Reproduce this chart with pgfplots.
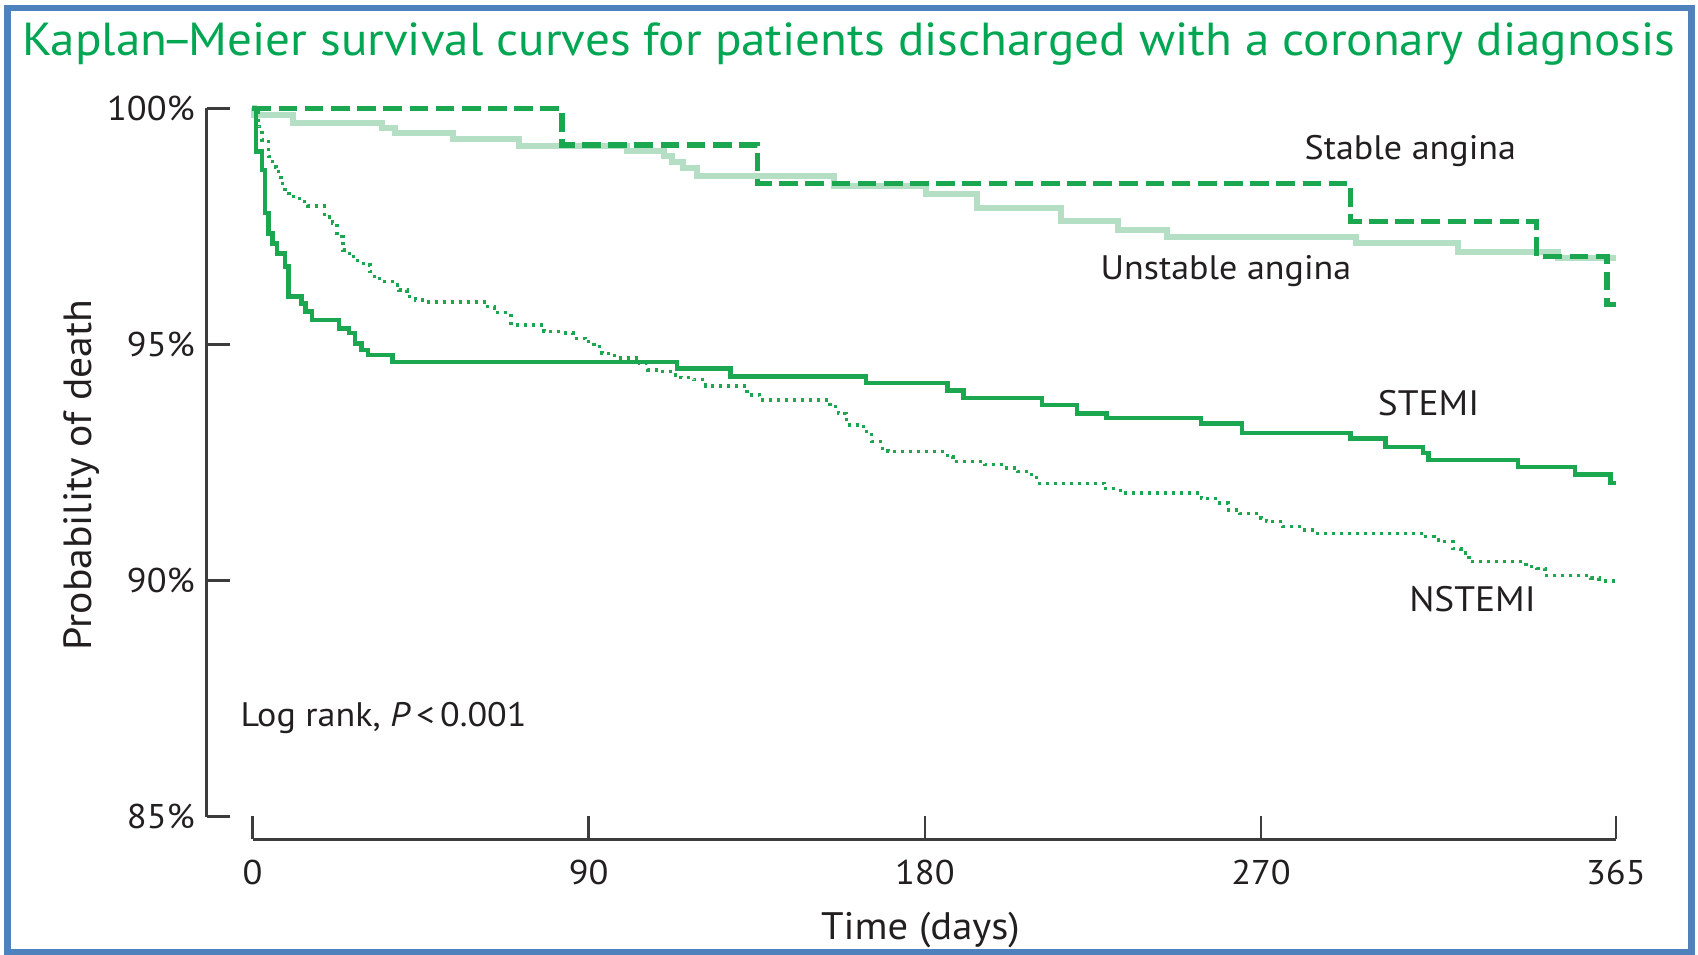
\documentclass[border=0pt]{standalone}
\usepackage{pgfplots}
\pgfplotsset{compat=1.18}
\usepackage{fontspec}
\setmainfont{PT Sans}[FakeStretch=1.06]

\definecolor{kmgreen}{RGB}{0,166,81}
\definecolor{kmline}{RGB}{27,167,80}
\definecolor{kmlight}{RGB}{181,223,196}
\definecolor{kmtext}{RGB}{35,31,32}
\definecolor{kmaxis}{RGB}{60,60,60}
\definecolor{kmframe}{RGB}{79,129,189}

% Kaplan-Meier estimates: day, survival (%) after the step at that day
\pgfplotstableread{
day pct
0 100
82.8 99.22
135.2 98.41
293.9 97.60
343.8 96.86
362.6 95.84
365 95.84
}\stable

\pgfplotstableread{
day pct
0 100
0.5 99.86
10.9 99.68
34.8 99.58
38.1 99.47
53.6 99.36
71.4 99.20
100.3 99.10
110.2 98.98
112.4 98.87
115.2 98.73
119.1 98.57
155.7 98.35
180.2 98.19
194 97.88
216.4 97.61
231.6 97.42
244.7 97.28
295.3 97.14
322.8 96.96
349.6 96.82
365 96.82
}\unstable

\pgfplotstableread{
day pct
0 100
0.9 99.08
2.6 98.69
3.4 97.78
4.3 97.35
5.4 97.14
6.5 96.93
8.7 96.65
9.6 96.01
13.1 95.87
14.2 95.70
15.9 95.52
23.1 95.34
25.9 95.24
27.5 95.02
29.2 94.88
30.9 94.78
37.5 94.63
113.6 94.49
128 94.32
164.3 94.18
186 94.02
190.4 93.86
211.4 93.72
220.8 93.54
228.7 93.44
254 93.32
264.9 93.12
293.9 93.01
303.3 92.83
313.4 92.70
314.9 92.55
338.8 92.40
354 92.24
363.6 92.06
365 92.06
}\stemi

\pgfplotstableread{
day pct
0 100
1.5 99.61
2.5 99.33
4.3 98.98
5.4 98.76
6.5 98.66
7.6 98.41
8.7 98.20
9.8 98.13
12.6 98.02
14.8 97.93
19.2 97.70
21.4 97.57
22.6 97.28
24.2 97.00
25.9 96.86
28.1 96.72
30.3 96.68
31.5 96.54
32.6 96.40
34.8 96.33
38.1 96.26
39.2 96.15
41.4 96.01
43.6 95.94
45.9 95.90
62.5 95.80
64.7 95.68
69.2 95.41
78 95.27
82.5 95.24
85.8 95.13
89.1 95.06
91.4 94.95
93.6 94.81
96.9 94.71
103.6 94.60
105.8 94.46
109.1 94.42
112.4 94.35
114.7 94.30
118 94.25
121.3 94.12
132.4 93.93
135.8 93.82
154.6 93.68
156.8 93.54
159 93.29
163.6 93.15
165.7 92.94
168.6 92.80
170.1 92.73
186 92.62
187.5 92.52
196.1 92.45
200.5 92.38
204.8 92.31
208.5 92.24
209.9 92.06
228 91.95
232.3 91.85
254 91.74
258.4 91.64
261.3 91.49
264.2 91.42
270 91.32
271.4 91.25
275.8 91.14
281.6 91.07
283.7 91.00
313.4 90.93
316.3 90.86
319.2 90.82
321.4 90.68
323.5 90.58
325.7 90.40
340.9 90.29
343.8 90.26
346 90.10
358.3 90.05
360.5 89.99
365 89.99
}\nstemi

\begin{document}
\begin{tikzpicture}
\useasboundingbox (0,0) rectangle (509.4pt,286.5pt);
\draw[kmframe, line width=1.95pt] (2.25pt,0.75pt) rectangle (507.45pt,284.1pt);

\node[anchor=base west, inner sep=0, text=kmgreen, font=\fontsize{13.9}{16}\selectfont]
  at (6.51pt,269.7pt) {Kaplan\kern-0.12em–\kern-0.12em Meier survival curves for patients discharged with a coronary diagnosis};

\begin{axis}[
  at={(61.95pt,34.71pt)}, anchor=south west,
  scale only axis, width=422.8pt, height=219.3pt,
  xmin=-12.315, xmax=365, ymin=84.52, ymax=100,
  enlargelimits=false, clip=false,
  axis x line=bottom, axis y line=left,
  axis line style={-, kmaxis, line width=0.75pt},
  x axis line style={shorten <=13.8pt},
  y axis line style={shorten <=6.8pt},
  xtick={0,90,180,270,365},
  xticklabels={0,90,180,270,365},
  ytick={85,90,95,100},
  yticklabels={85\%,90\%,95\%,100\%},
  tick align=inside,
  major tick length=6.9pt,
  tick style={kmaxis, line width=0.75pt},
  ticklabel style={font=\fontsize{10.3}{12}\selectfont, text=kmtext},
  xticklabel style={yshift=-2.7pt},
]
\addplot[const plot, kmlight, line width=1.8pt] table[x=day, y=pct] {\unstable};
\addplot[const plot, kmline, line width=1.65pt, dash pattern=on 5.6pt off 2.25pt] table[x=day, y=pct] {\stable};
\addplot[const plot, kmline, line width=1.35pt] table[x=day, y=pct] {\stemi};
\addplot[const plot, kmline, line width=1.0pt, dash pattern=on 0.9pt off 1.5pt] table[x=day, y=pct] {\nstemi};
\end{axis}

\begin{scope}[every node/.style={inner sep=0, text=kmtext, font=\fontsize{10.2}{12}\selectfont}]
\node[anchor=base west] at (391.2pt,238.5pt) {Stable angina};
\node[anchor=base west] at (330.0pt,202.5pt) {Unstable angina};
\node[anchor=base west, font=\fontsize{10.6}{12}\selectfont] at (413.19pt,161.7pt) {STEMI};
\node[anchor=base west, font=\fontsize{10.6}{12}\selectfont] at (422.58pt,102.99pt) {NSTEMI};
\node[anchor=base west] at (72.0pt,68.49pt) {Log rank, \textit{P}\,<\,0.001};
\node[anchor=base, font=\fontsize{11.5}{13}\selectfont] at (276.15pt,4.5pt) {Time (days)};
\node[anchor=base, rotate=90, font=\fontsize{11.8}{13}\selectfont] at (27.51pt,144.0pt) {Probability of death};
\end{scope}
\end{tikzpicture}
\end{document}
